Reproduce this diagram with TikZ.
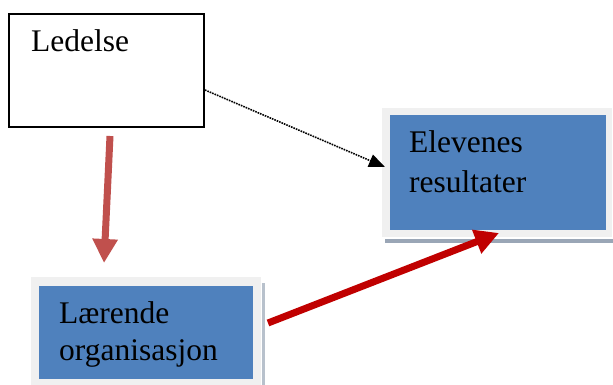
\documentclass[tikz,border=0pt]{standalone}
\usepackage{fontspec}
\setmainfont{Liberation Serif}
\usetikzlibrary{arrows.meta}
\definecolor{boxblue}{HTML}{4F81BD}
\definecolor{framegray}{HTML}{F0F0F0}
\definecolor{shadowgray}{HTML}{9AA6B6}
\definecolor{brickred}{HTML}{C0504D}
\definecolor{darkred}{HTML}{C00000}
\tikzset{
    lbl/.style={inner sep=0pt, anchor=base west, font=\fontsize{31.5}{36}\selectfont},
    whitebox/.style={draw=black, line width=2pt, fill=white, inner sep=0pt},
    bluebox/.style={fill=boxblue, inner sep=0pt},
    fatarrow/.style={line width=7pt, -{Triangle[length=24pt, width=24pt]}}
}
\begin{document}
\begin{tikzpicture}[x=1pt, y=-1pt]
        % Page frame
        \useasboundingbox (0, 0) rectangle (613, 385);

        % Box for the leadership
        \node[whitebox, minimum width=195pt, minimum height=113pt] (led) at (106.5, 70.5) {};
        \node[lbl] (ledtxt) at (31, 52) {Ledelse};

        % Box for the results, with its frame and shadow
        \fill[shadowgray] (385, 239) rectangle (613, 243);
        \fill[framegray] (382, 108) rectangle (612, 237);
        \node[bluebox, minimum width=216pt, minimum height=115pt] (res) at (498, 172.5) {};
        \node[lbl] (res1) at (409, 153) {Elevenes};
        \node[lbl] (res2) at (409, 193) {resultater};

        % Box for the learning organisation
        \fill[shadowgray!70] (262, 283) rectangle (265, 385);
        \fill[framegray] (31, 277) rectangle (261, 385);
        \node[bluebox, minimum width=214pt, minimum height=93pt] (org) at (146, 332.5) {};
        \node[lbl] (org1) at (59, 323) {Lærende};
        \node[lbl] (org2) at (59, 360) {organisasjon};

        % Ends of the arrows
        \coordinate (ledright) at (205, 90);
        \coordinate (resleft) at (385, 167);
        \coordinate (ledbottom) at (110, 136);
        \coordinate (orgtop) at (104, 263);
        \coordinate (orgright) at (268, 323);
        \coordinate (resbottom) at (499, 233);

        % Draw the arrows
        \draw[densely dotted, line width=1.6pt, -{Triangle[length=16pt, width=13pt]}] (ledright) -- (resleft);
        \draw[fatarrow, brickred] (ledbottom) -- (orgtop);
        \draw[fatarrow, darkred] (orgright) -- (resbottom);
    \end{tikzpicture}
\end{document}
